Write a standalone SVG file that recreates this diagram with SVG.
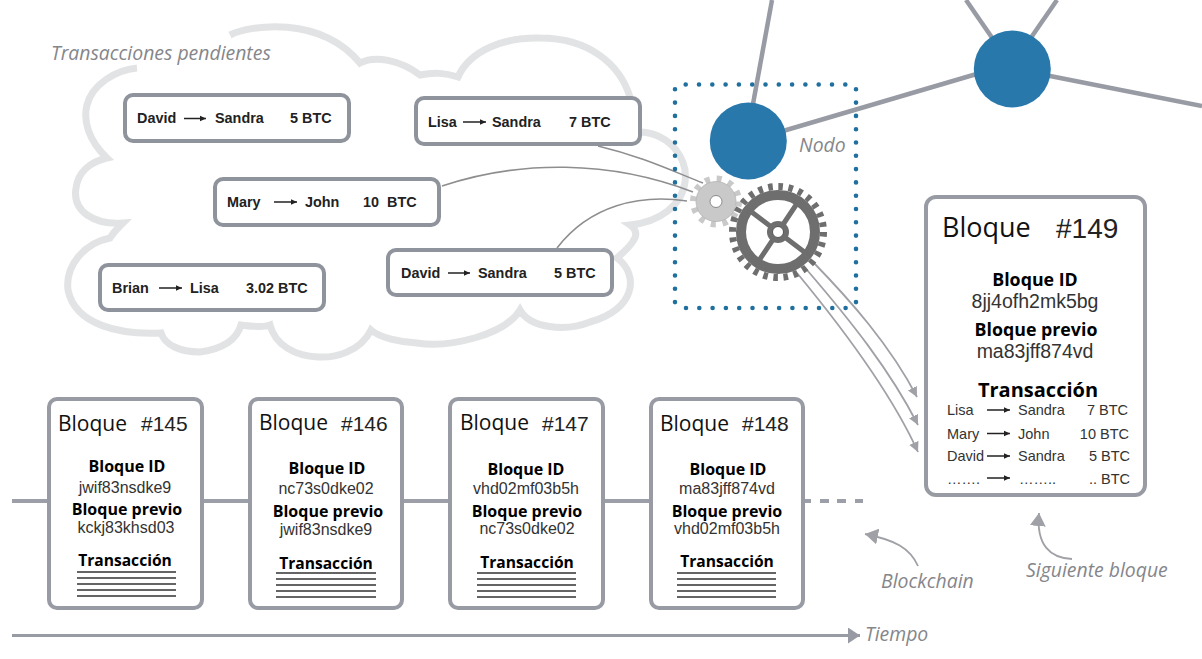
<svg xmlns="http://www.w3.org/2000/svg" width="1202" height="659" viewBox="0 0 1202 659">
<style>
text{font-family:"Liberation Sans",Arial,sans-serif}
.cloud{fill:none;stroke:#e2e3e4;stroke-width:7;stroke-linejoin:miter}
.box{fill:#fff;stroke:#8f939c;stroke-width:4}
.blk{fill:#fff;stroke:#989ba3;stroke-width:4}
.tx{font-size:14.4px;font-weight:bold;fill:#222}
.cap{font-family:"Open Sans",sans-serif;font-style:italic;font-size:19.4px;fill:#85868a}
.ttl{font-family:"Open Sans",sans-serif;font-size:21px;fill:#111}
.num{font-size:21px;fill:#222}
.lab{font-family:"Open Sans",sans-serif;font-weight:bold;font-size:16px;fill:#000;text-anchor:middle}
.tr{font-size:15.6px}
.val{font-size:16px;fill:#333;text-anchor:middle}
.row{font-size:14.5px;fill:#333}
.end{text-anchor:end}
.arr{stroke:#222;stroke-width:1.5;fill:none;marker-end:url(#tip)}
.rule{stroke:#333;stroke-width:1.4}
.thin{fill:none;stroke:#8e8e90;stroke-width:1.6}
.out{fill:none;stroke:#a0a1a6;stroke-width:1.8;marker-end:url(#small)}
.big{fill:none;stroke:#a0a1a6;stroke-width:1.8;marker-end:url(#head)}
.edge{stroke:#989ba4;stroke-width:4.5;fill:none}
.chain{stroke:#9c9fa7;stroke-width:4;fill:none}
.dots{stroke:#1f6f9f;stroke-width:4.6;stroke-linecap:round;stroke-dasharray:0 13.3;fill:none}
.ball{fill:#2878ac}
</style>
<defs>
<marker id="tip" markerUnits="userSpaceOnUse" markerWidth="7" markerHeight="7" refX="6" refY="3.5" orient="auto"><path d="M0 .8L6 3.5L0 6.2Z" fill="#222"/></marker>
<marker id="small" markerUnits="userSpaceOnUse" markerWidth="11" markerHeight="11" refX="10" refY="5" orient="auto"><path d="M0 0L10 5L0 10Z" fill="#a0a1a6"/></marker>
<marker id="head" markerUnits="userSpaceOnUse" markerWidth="14" markerHeight="16" refX="13" refY="8" orient="auto"><path d="M0 0L13 8L0 16Z" fill="#a0a1a6"/></marker>
<marker id="time" markerUnits="userSpaceOnUse" markerWidth="13" markerHeight="16" refX="12" refY="8" orient="auto"><path d="M0 0L12 8L0 16Z" fill="#989ba4"/></marker>
</defs>
<rect width="1202" height="659" fill="#fff"/>

<g id="cloud">
<path class="cloud" d="M230 35C250 25 320 15 360 63C375 55 400 60 420 75C435 72 445 73 458 77C470 50 505 37 540 38C590 38 620 65 630 97"/>
<path class="cloud" d="M642 132C672 135 688 160 685 182C682 205 660 222 630 225C640 232 638 240 617 258C640 275 635 310 590 322C565 332 530 328 520 310C505 335 450 348 417 343C400 342 380 338 371 330C360 352 335 358 318 357C295 356 275 345 270 325C262 328 250 326 241 325C235 345 215 350 200 352C180 352 165 345 161 333C120 335 75 325 68 290C65 265 85 243 110 238C115 230 118 228 123 223C95 225 72 212 76 188C78 172 90 162 107 158C88 140 83 120 87 105C92 85 115 70 137 68"/>
</g>

<g id="connectors">
<path class="edge" d="M753 104L772 0"/>
<path class="edge" d="M783 131L980 73"/>
<path class="edge" d="M995 42L966 0"/>
<path class="edge" d="M1028 42L1057 0"/>
<path class="edge" d="M1045 75L1202 106"/>
<path class="thin" d="M598 146C640 156 670 170 703 183"/>
<path class="thin" d="M442 186C520 160 610 160 693 192"/>
<path class="thin" d="M557 248C590 205 640 194 687 201"/>
<path class="out" d="M813 262C850 300 890 345 917 397"/>
<path class="out" d="M807 270C850 320 890 370 918 425"/>
<path class="out" d="M797 273C840 325 890 390 918 452"/>
<path class="chain" d="M12 501H47M204 501H248M404 501H448M605 501H649M805 501H811M820 501H829M837 501H846M855 501H863"/>
<path class="edge" style="stroke-width:3;marker-end:url(#time)" d="M12 635.500H860"/>
<path class="big" d="M918 566C910 548 895 540 865 534"/>
<path class="big" d="M1072 559C1050 558 1036 545 1039 513"/>
</g>

<g id="node-area"><path class="dots" d="M675 89.300V303"/><path class="dots" d="M685.700 84.500H850"/><path class="dots" d="M856 89.300V303"/><path class="dots" d="M686 308H850"/></g>
<g id="node-1"><circle class="ball" cx="748.300" cy="141" r="38.500"/></g>
<g id="node-2"><circle class="ball" cx="1012.300" cy="69" r="38.500"/></g>
<text class="cap" x="799" y="152">Nodo</text>

<g id="gear-small">
<circle cx="716" cy="201.500" r="22.500" fill="none" stroke="#c9c9c9" stroke-width="7" stroke-dasharray="5 6.780"/>
<circle cx="716" cy="201.500" r="20" fill="#c9c9c9" stroke="#b5b5b5" stroke-width=".8"/>
<circle cx="716" cy="201.500" r="6" fill="#fff" stroke="#8a8a8a" stroke-width="1"/>
</g>
<g id="gear-big">
<circle cx="778" cy="232" r="45.500" fill="none" stroke="#6e6e6e" stroke-width="7" stroke-dasharray="4.600 5.610"/>
<circle cx="778" cy="232" r="37" fill="none" stroke="#6e6e6e" stroke-width="10"/>
<path d="M749 210L807 254M758 262L798 202" stroke="#6e6e6e" stroke-width="5" fill="none"/>
<circle cx="778" cy="232" r="11" fill="#6e6e6e"/>
<circle cx="778" cy="232" r="5.500" fill="#fff" stroke="#555" stroke-width="1"/>
</g>

<text class="cap" x="51" y="60">Transacciones pendientes</text>

<g id="tx-david-sandra-1"><rect class="box" x="125" y="95" width="224" height="46" rx="8"/>
<text class="tx" x="137" y="123">David</text><path class="arr" d="M184 118.500H206"/><text class="tx" x="215" y="123">Sandra</text><text class="tx" x="290" y="123">5 BTC</text></g>
<g id="tx-lisa-sandra"><rect class="box" x="416" y="98" width="224" height="46" rx="8"/>
<text class="tx" x="428" y="127">Lisa</text><path class="arr" d="M463 122H486"/><text class="tx" x="492" y="127">Sandra</text><text class="tx" x="569" y="127">7 BTC</text></g>
<g id="tx-mary-john"><rect class="box" x="215" y="179" width="224" height="46" rx="8"/>
<text class="tx" x="227" y="207">Mary</text><path class="arr" d="M274 202H297"/><text class="tx" x="305" y="207">John</text><text class="tx" x="363" y="207" xml:space="preserve">10  BTC</text></g>
<g id="tx-david-sandra-2"><rect class="box" x="388" y="250" width="224" height="45" rx="8"/>
<text class="tx" x="401" y="278">David</text><path class="arr" d="M448 273H470"/><text class="tx" x="478" y="278">Sandra</text><text class="tx" x="554" y="278">5 BTC</text></g>
<g id="tx-brian-lisa"><rect class="box" x="100" y="265" width="224" height="45" rx="8"/>
<text class="tx" x="112" y="293">Brian</text><path class="arr" d="M159 288H182"/><text class="tx" x="190" y="293">Lisa</text><text class="tx" x="246" y="293">3.02 BTC</text></g>

<g id="block-145"><rect class="blk" x="49" y="399" width="153" height="209" rx="8"/>
<text class="ttl" x="58" y="431">Bloque</text><text class="num" x="141" y="431">#145</text>
<text class="lab" x="127" y="472">Bloque ID</text><text class="val" x="125" y="493">jwif83nsdke9</text>
<text class="lab" x="127" y="515">Bloque previo</text><text class="val" x="126" y="533">kckj83khsd03</text>
<text class="lab tr" x="125" y="566">Transacción</text>
<path class="rule" d="M77 572H176M77 578H176M77 584H176M77 590H176M77 596H176"/></g>

<g id="block-146"><rect class="blk" x="250" y="399" width="152" height="209" rx="8"/>
<text class="ttl" x="259" y="430">Bloque</text><text class="num" x="341" y="431">#146</text>
<text class="lab" x="327" y="474">Bloque ID</text><text class="val" x="326" y="494">nc73s0dke02</text>
<text class="lab" x="328" y="517">Bloque previo</text><text class="val" x="326" y="535">jwif83nsdke9</text>
<text class="lab tr" x="326" y="569">Transacción</text>
<path class="rule" d="M276 573H376M276 579H376M276 585H376M276 591H376M276 597H376"/></g>

<g id="block-147"><rect class="blk" x="450" y="399" width="153" height="209" rx="8"/>
<text class="ttl" x="460" y="430">Bloque</text><text class="num" x="542" y="431">#147</text>
<text class="lab" x="526" y="475">Bloque ID</text><text class="val" x="526" y="494">vhd02mf03b5h</text>
<text class="lab" x="527" y="517">Bloque previo</text><text class="val" x="527" y="534">nc73s0dke02</text>
<text class="lab tr" x="527" y="568">Transacción</text>
<path class="rule" d="M477 573H576M477 579H576M477 585H576M477 591H576M477 597H576"/></g>

<g id="block-148"><rect class="blk" x="651" y="399" width="152" height="209" rx="8"/>
<text class="ttl" x="660" y="431">Bloque</text><text class="num" x="742" y="431">#148</text>
<text class="lab" x="728" y="475">Bloque ID</text><text class="val" x="727" y="494">ma83jff874vd</text>
<text class="lab" x="727" y="517">Bloque previo</text><text class="val" x="727" y="534">vhd02mf03b5h</text>
<text class="lab tr" x="727" y="567">Transacción</text>
<path class="rule" d="M677 573H776M677 579H776M677 585H776M677 591H776M677 597H776"/></g>

<g id="block-149"><rect class="blk" x="926" y="197" width="219" height="298" rx="10"/>
<text class="ttl" style="font-size:27px" x="942" y="237">Bloque</text><text class="num" style="font-size:28px" x="1056" y="238">#149</text>
<text class="lab" style="font-size:17.8px" x="1035" y="286">Bloque ID</text><text class="val" style="font-size:19.500px" x="1035" y="308">8jj4ofh2mk5bg</text>
<text class="lab" style="font-size:17.8px" x="1036" y="336">Bloque previo</text><text class="val" style="font-size:19.500px" x="1035" y="358">ma83jff874vd</text>
<text class="lab" style="font-size:20px" x="1038" y="397">Transacción</text>
<text class="row" x="947" y="415">Lisa</text><path class="arr" d="M987 410H1010"/><text class="row" x="1018" y="415">Sandra</text><text class="row end" x="1128" y="415">7 BTC</text>
<text class="row" x="947" y="439">Mary</text><path class="arr" d="M987 433.500H1010"/><text class="row" x="1018" y="439">John</text><text class="row end" x="1129" y="439">10 BTC</text>
<text class="row" x="947" y="461">David</text><path class="arr" d="M987 456H1010"/><text class="row" x="1018" y="461">Sandra</text><text class="row end" x="1130" y="461">5 BTC</text>
<text class="row" x="947" y="484">…….</text><path class="arr" d="M987 478H1010"/><text class="row" x="1019" y="484">……..</text><text class="row end" x="1130" y="484">.. BTC</text>
</g>

<text class="cap" x="881" y="588">Blockchain</text>
<text class="cap" x="1026" y="577">Siguiente bloque</text>
<text class="cap" x="865" y="641">Tiempo</text>
</svg>
